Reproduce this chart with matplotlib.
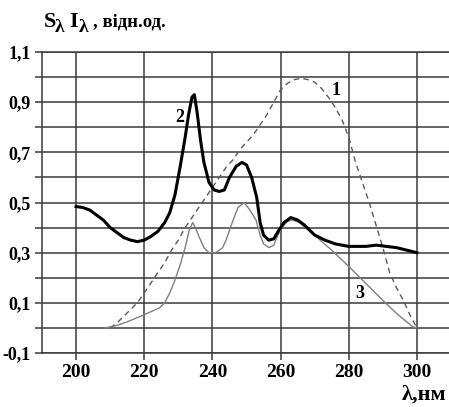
import numpy as np
import matplotlib
matplotlib.use("Agg")
import matplotlib.pyplot as plt

plt.rcParams["font.family"] = ["Liberation Serif", "DejaVu Serif"]

# curve 1 (dashed)
wl1 = [210, 212, 215, 218, 220, 222, 224, 226, 228, 230, 232, 234, 236, 238,
       240, 242, 244, 246, 248, 250, 252, 254, 256, 258, 260, 262, 264, 266,
       268, 270, 272, 274, 276, 278, 280, 282, 284, 286, 288, 290, 292, 294,
       296, 298, 300]
s1 = [0.00, 0.02, 0.06, 0.10, 0.14, 0.18, 0.22, 0.26, 0.31, 0.35, 0.40, 0.44,
      0.48, 0.52, 0.56, 0.60, 0.64, 0.67, 0.71, 0.74, 0.77, 0.81, 0.85, 0.90,
      0.95, 0.975, 0.99, 0.995, 0.99, 0.98, 0.955, 0.92, 0.88, 0.83, 0.76,
      0.66, 0.58, 0.50, 0.41, 0.32, 0.22, 0.16, 0.11, 0.05, 0.00]

# curve 2 (thick)
wl2 = [200, 202, 204, 206, 208, 210, 212, 214, 216, 218, 220, 222, 224, 226,
       227.5, 229, 230.5, 232, 233, 234, 234.7, 235.5, 236.5, 237.5, 239,
       240.5, 242, 243.5, 245, 247, 248.7, 250, 251.5, 253, 254, 255, 256.5,
       258, 259.5, 261, 263, 265, 267, 270, 273, 276, 280, 285, 288, 291,
       294, 297, 300]
s2 = [0.484, 0.48, 0.47, 0.45, 0.43, 0.40, 0.38, 0.36, 0.35, 0.344, 0.35,
      0.365, 0.385, 0.42, 0.46, 0.53, 0.64, 0.76, 0.85, 0.92, 0.93, 0.86,
      0.75, 0.66, 0.58, 0.55, 0.544, 0.55, 0.60, 0.645, 0.66, 0.65, 0.60,
      0.52, 0.42, 0.37, 0.35, 0.355, 0.39, 0.42, 0.44, 0.43, 0.41, 0.37,
      0.35, 0.335, 0.325, 0.325, 0.33, 0.325, 0.32, 0.31, 0.30]

# curve 3 (thin)
wl3 = [208.5, 212, 215, 219.5, 222, 224.5, 226, 227.5, 229, 230.5, 232, 233.2,
       234.2, 235, 236.2, 237.5, 239, 241, 243, 244, 245.8, 247.5, 249.3, 251,
       252.8, 254, 255, 256.6, 258, 259.2, 260.4, 262, 263.5, 265.5, 267.3,
       270, 272, 275, 280, 284.8, 290.7, 294.5, 298.8, 300]
s3 = [0.0, 0.01, 0.024, 0.05, 0.065, 0.08, 0.10, 0.14, 0.19, 0.25, 0.32,
      0.39, 0.42, 0.40, 0.36, 0.32, 0.30, 0.30, 0.32, 0.35, 0.42, 0.48, 0.50,
      0.47, 0.43, 0.37, 0.335, 0.32, 0.33, 0.37, 0.40, 0.425, 0.43, 0.42,
      0.40, 0.37, 0.345, 0.31, 0.245, 0.18, 0.10, 0.052, 0.004, 0.0]

x_ticks = [200, 220, 240, 260, 280, 300]
y_ticks = [-0.1, 0.0, 0.1, 0.2, 0.3, 0.4, 0.5, 0.6, 0.7, 0.8, 0.9, 1.0, 1.1]
y_labels = ["-0,1", "", "0,1", "", "0,3", "", "0,5", "", "0,7", "", "0,9", "", "1,1"]

GRID = "#3a3a3a"


def ftext(fig, px, py, s, size, **kw):
    # place text by pixel position (top-left origin) of the 449x407 figure
    fig.text(px / 449, 1 - py / 407, s, fontsize=size, fontweight="bold",
             va="baseline", **kw)


def main():
    fig = plt.figure(figsize=(4.49, 4.07), dpi=100)
    ax = fig.add_axes([0.0935, 0.1327, 0.9065, 0.7395])

    ax.set_xlim(190, 309.4)
    ax.set_ylim(-0.1, 1.1)
    ax.set_xticks(x_ticks)
    ax.set_xticklabels([str(t) for t in x_ticks])
    ax.set_yticks(y_ticks)
    ax.set_yticklabels(y_labels)
    ax.grid(True, color=GRID, lw=1.1)
    ax.set_axisbelow(True)

    ax.plot(wl1, s1, color="#5a5a5a", lw=1.0, dashes=(4, 3))
    ax.plot(wl3, s3, color="#808080", lw=1.0)
    ax.plot(wl2, s2, color="black", lw=2.2)

    for sp in ["left", "bottom", "top"]:
        ax.spines[sp].set_color(GRID)
        ax.spines[sp].set_linewidth(1.1)
    ax.spines["right"].set_visible(False)

    ax.tick_params(axis="both", length=5, width=1.1, color=GRID, pad=3)
    for lab in ax.get_xticklabels():
        lab.set_fontsize(14)
        lab.set_fontweight("bold")
    for lab in ax.get_yticklabels():
        lab.set_fontsize(13)
        lab.set_fontweight("bold")

    # curve numbers
    ax.text(276.2, 0.948, "1", fontsize=13, fontweight="bold", ha="center", va="center")
    ax.text(230.5, 0.84, "2", fontsize=13, fontweight="bold", ha="center", va="center")
    ax.text(283.3, 0.136, "3", fontsize=13, fontweight="bold", ha="center", va="center")

    # axis titles
    ftext(fig, 44, 27, "S", 16)
    ftext(fig, 55, 32, "λ", 14)
    ftext(fig, 69, 27, "I", 16)
    ftext(fig, 79, 32, "λ", 14)
    ftext(fig, 93, 27, ", відн.од.", 13.5)
    ftext(fig, 446, 400, "λ,нм", 16, ha="right")

    fig.savefig("out.png", dpi=100)
    plt.close(fig)


if __name__ == "__main__":
    main()
